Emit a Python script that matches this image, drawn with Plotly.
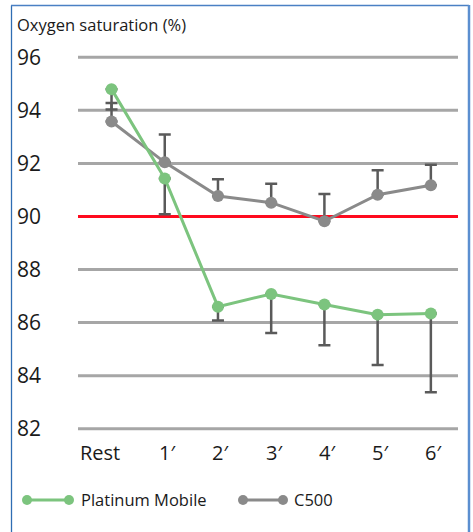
import plotly.graph_objects as go

# Time points and measured oxygen saturation (%)
time_labels = ["Rest", "1′", "2′", "3′", "4′", "5′", "6′"]
platinum_mobile = [94.8, 91.43, 86.6, 87.08, 86.68, 86.3, 86.34]
platinum_err_minus = [0.77, 1.35, 0.52, 1.47, 1.53, 1.9, 2.97]
c500 = [93.58, 92.04, 90.77, 90.52, 89.82, 90.82, 91.18]
c500_err_plus = [0.7, 1.05, 0.63, 0.71, 1.03, 0.92, 0.77]
y_ticks = [82, 84, 86, 88, 90, 92, 94, 96]
threshold = 90

W, H = 473, 532
ML, MR, MT, MB = 78, 15, 52, 98
PW, PH = W - ML - MR, H - MT - MB
FONT = "Open Sans"
GREEN = "#7cc47e"
GREY = "#8a8a8a"
ERR = "#5a5a5a"
X_RANGE = [-0.63, 6.51]


def px(x):
    return (x - ML) / PW


def py(y):
    return (H - MB - y) / PH


idx = list(range(len(time_labels)))

fig = go.Figure()
fig.add_trace(go.Scatter(
    x=idx, y=c500, mode="lines+markers", name="C500",
    line=dict(color=GREY, width=3), marker=dict(size=12, color=GREY),
    error_y=dict(type="data", symmetric=False, array=c500_err_plus,
                 arrayminus=[0] * len(c500), color=ERR, thickness=2.5, width=6),
    showlegend=False,
))
fig.add_trace(go.Scatter(
    x=idx, y=platinum_mobile, mode="lines+markers", name="Platinum Mobile",
    line=dict(color=GREEN, width=3), marker=dict(size=12, color=GREEN),
    error_y=dict(type="data", symmetric=False, array=[0] * len(platinum_mobile),
                 arrayminus=platinum_err_minus, color=ERR, thickness=2.5, width=6),
    showlegend=False,
))

# horizontal grid drawn as shapes so the 90 % line can sit on top of it
shapes = [
    dict(type="line", xref="paper", yref="y", x0=0, x1=1, y0=v, y1=v,
         line=dict(color="#a6a6a6", width=3), layer="below")
    for v in y_ticks if v != threshold
]
shapes += [
    dict(type="line", xref="paper", yref="y", x0=0, x1=1, y0=threshold, y1=threshold,
         line=dict(color="#ff0a1e", width=3), layer="below"),
    # frame
    dict(type="line", xref="paper", yref="paper", x0=px(11.5), x1=px(11.5), y0=py(5.5), y1=py(540),
         line=dict(color="#2f6db3", width=1.3)),
    dict(type="line", xref="paper", yref="paper", x0=px(11), x1=px(469), y0=py(5.5), y1=py(5.5),
         line=dict(color="#4a80c4", width=1.3)),
    dict(type="line", xref="paper", yref="paper", x0=px(469), x1=px(469), y0=py(5), y1=py(540),
         line=dict(color="#5b8fd0", width=2.5)),
]

annotations = [
    dict(text="Oxygen saturation (%)", xref="paper", yref="paper", x=px(15), y=py(25),
         xanchor="left", yanchor="middle", showarrow=False,
         font=dict(family=FONT, size=16.5, color="#1a1a1a")),
]

# category labels under the axis
for i, lab in enumerate(time_labels):
    if i == 0:
        annotations.append(dict(text=lab, xref="x", yref="paper", x=X_RANGE[0], y=py(452),
                                xanchor="left", yanchor="middle", showarrow=False,
                                font=dict(family=FONT, size=20, color="#1a1a1a")))
    else:
        annotations.append(dict(text=lab, xref="x", yref="paper", x=i, y=py(452), xshift=3,
                                xanchor="center", yanchor="middle", showarrow=False,
                                font=dict(family=FONT, size=20, color="#1a1a1a")))

# legend drawn as line with end markers
legend_items = [("Platinum Mobile", GREEN, 27, 69, 79), ("C500", GREY, 243, 283, 292)]
LY = 500
for name, col, xa, xb, xt in legend_items:
    shapes.append(dict(type="line", xref="paper", yref="paper", x0=px(xa), x1=px(xb),
                       y0=py(LY), y1=py(LY), line=dict(color=col, width=3)))
    for xc in (xa, xb):
        shapes.append(dict(type="circle", xref="paper", yref="paper",
                           x0=px(xc - 5), x1=px(xc + 5), y0=py(LY - 5), y1=py(LY + 5),
                           fillcolor=col, line=dict(color=col, width=0)))
    annotations.append(dict(text=name, xref="paper", yref="paper", x=px(xt), y=py(LY),
                            xanchor="left", yanchor="middle", showarrow=False,
                            font=dict(family=FONT, size=16.5, color="#1a1a1a")))

fig.update_layout(
    width=W, height=H,
    margin=dict(l=ML, r=MR, t=MT, b=MB),
    paper_bgcolor="white", plot_bgcolor="white",
    font=dict(family=FONT, color="#1a1a1a"),
    shapes=shapes, annotations=annotations,
    xaxis=dict(range=X_RANGE, showgrid=False, zeroline=False, showline=False,
               showticklabels=False, ticks=""),
    yaxis=dict(range=[81.8, 96.2], tickvals=y_ticks, showgrid=False,
               zeroline=False, showline=False, ticks="",
               ticklabelstandoff=36, tickfont=dict(family=FONT, size=21, color="#1a1a1a")),
)

fig.write_html("out.html")
